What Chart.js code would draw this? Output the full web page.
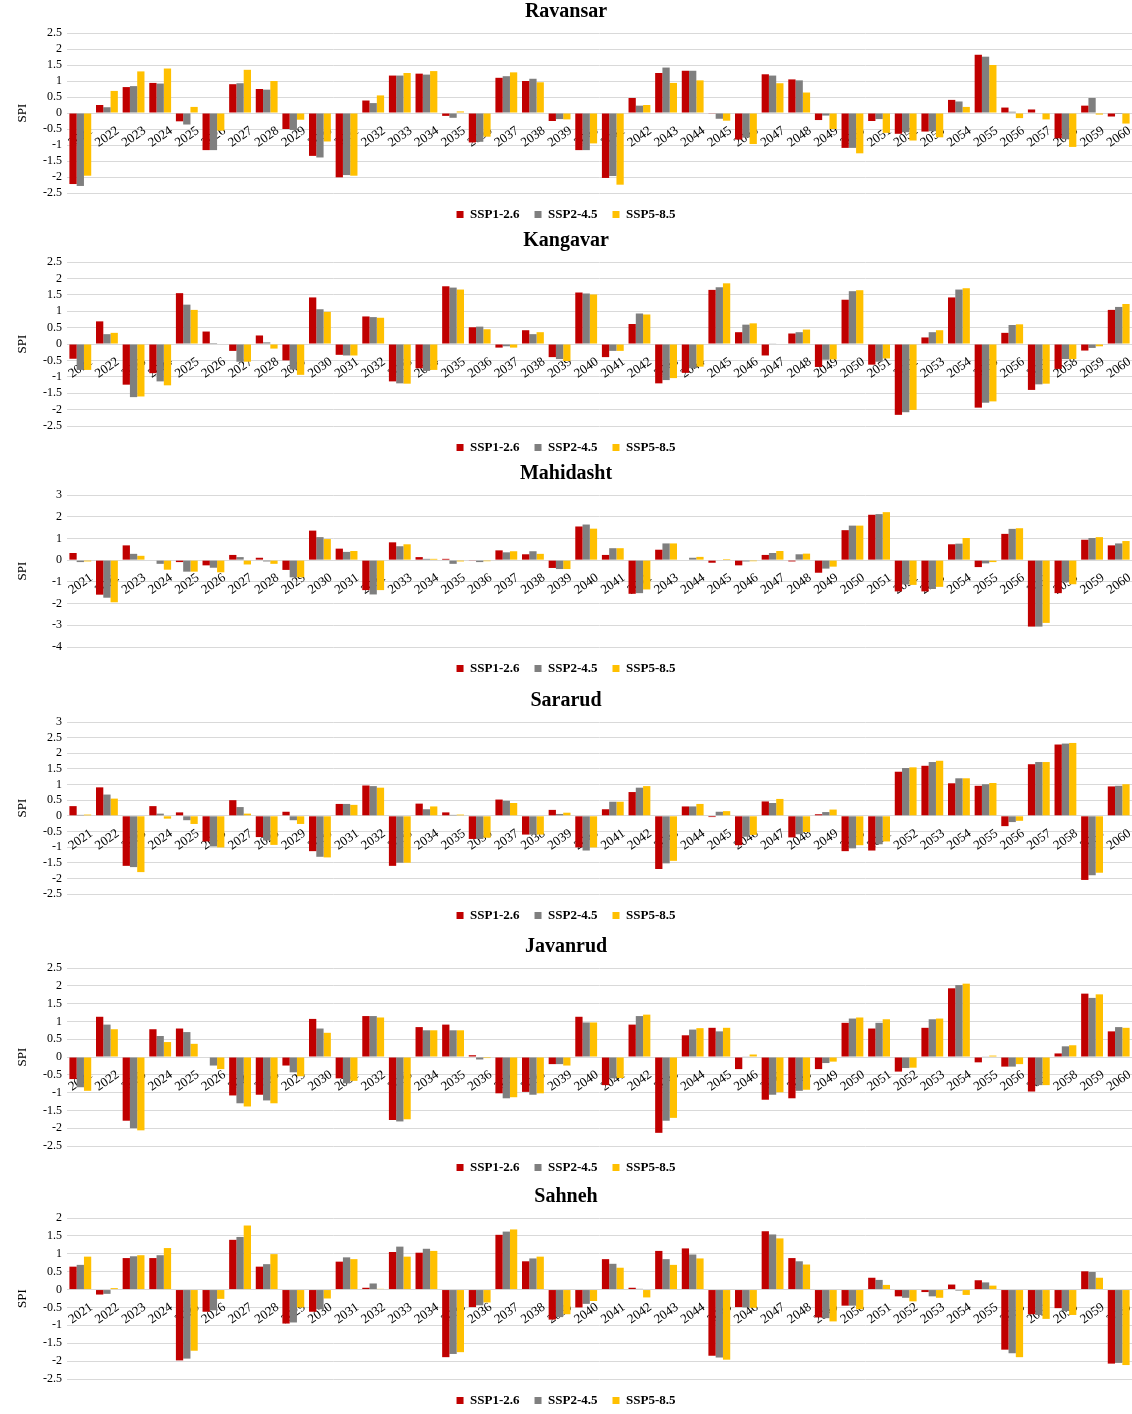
<!DOCTYPE html>
<html>
<head>
<meta charset="utf-8">
<script src="https://cdn.jsdelivr.net/npm/chart.js@4.4.1/dist/chart.umd.min.js"></script>
<style>
  body { margin: 0; background: #fff; }
  #chartsContainer { position: relative; width: 1132px; height: 1414px; overflow: hidden; }
  .panel { position: absolute; left: 0; width: 1132px; }
</style>
</head>
<body>
<div id="chartsContainer"></div>
<script>
const years = ['2021','2022','2023','2024','2025','2026','2027','2028','2029','2030',
               '2031','2032','2033','2034','2035','2036','2037','2038','2039','2040',
               '2041','2042','2043','2044','2045','2046','2047','2048','2049','2050',
               '2051','2052','2053','2054','2055','2056','2057','2058','2059','2060'];
const scenarios = ['SSP1-2.6', 'SSP2-4.5', 'SSP5-8.5'];
const stations = ['Ravansar', 'Kangavar', 'Mahidasht', 'Sararud', 'Javanrud', 'Sahneh'];

// SPI values per station, one array per scenario
const ravansar126 = [-2.22,0.25,0.81,0.94,-0.26,-1.16,0.90,0.75,-0.50,-1.34,-2.01,0.39,1.17,1.23,-0.09,-0.92,1.10,1.00,-0.25,-1.16,
                     -2.03,0.47,1.25,1.32,-0.01,-0.83,1.21,1.05,-0.22,-1.09,-0.25,-0.65,-0.58,0.41,1.82,0.17,0.11,-0.79,0.23,-0.11];
const ravansar245 = [-2.28,0.18,0.84,0.92,-0.36,-1.16,0.93,0.73,-0.53,-1.39,-1.94,0.31,1.17,1.20,-0.15,-0.90,1.15,1.07,-0.19,-1.16,
                     -1.97,0.23,1.42,1.32,-0.18,-0.77,1.17,1.02,-0.08,-1.09,-0.19,-0.60,-0.57,0.36,1.76,0.04,0.00,-0.82,0.47,-0.03];
const ravansar585 = [-1.96,0.69,1.30,1.39,0.19,-0.55,1.35,1.00,-0.21,-0.89,-1.96,0.55,1.25,1.31,0.05,-0.74,1.27,0.96,-0.20,-0.95,
                     -2.24,0.25,0.94,1.02,-0.24,-0.97,0.93,0.64,-0.50,-1.26,-0.62,-0.86,-0.76,0.19,1.50,-0.16,-0.20,-1.06,-0.05,-0.33];

const kangavar126 = [-0.45,0.69,-1.24,-0.89,1.55,0.38,-0.21,0.26,-0.50,1.42,-0.33,0.84,-1.14,-0.74,1.76,0.51,-0.11,0.42,-0.40,
                     1.57,-0.40,0.61,-1.20,-0.88,1.65,0.36,-0.35,0.32,-0.70,1.35,-0.63,-2.16,0.20,1.42,-1.94,0.34,-1.40,-0.76,-0.20,1.04];
const kangavar245 = [-0.79,0.30,-1.62,-1.14,1.20,0.03,-0.54,0.05,-0.78,1.06,-0.35,0.82,-1.20,-0.82,1.72,0.53,-0.07,0.30,-0.46,
                     1.54,-0.21,0.93,-1.10,-0.74,1.73,0.59,0.02,0.36,-0.48,1.61,-0.54,-2.08,0.36,1.66,-1.79,0.58,-1.23,-0.46,-0.12,1.13];
const kangavar585 = [-0.79,0.34,-1.60,-1.26,1.04,0.00,-0.54,-0.14,-0.94,0.98,-0.35,0.80,-1.21,-0.79,1.66,0.45,-0.11,0.36,-0.52,
                     1.51,-0.21,0.90,-1.04,-0.69,1.85,0.63,0.00,0.44,-0.47,1.64,-0.44,-2.01,0.42,1.70,-1.75,0.60,-1.21,-0.46,-0.07,1.22];

const mahidasht126 = [0.33,-1.59,0.68,0.00,-0.09,-0.24,0.24,0.11,-0.45,1.36,0.53,-1.38,0.82,0.14,0.06,-0.03,0.45,0.27,-0.36,
                      1.55,0.24,-1.55,0.48,0.00,-0.12,-0.24,0.24,-0.06,-0.58,1.38,2.09,-1.44,-1.44,0.73,-0.32,1.21,-3.06,-1.52,0.94,0.68];
const mahidasht245 = [-0.09,-1.73,0.29,-0.17,-0.53,-0.35,0.14,-0.06,-0.79,1.06,0.38,-1.58,0.64,0.06,-0.17,-0.09,0.36,0.41,-0.41,
                      1.64,0.55,-1.52,0.77,0.11,0.00,-0.06,0.33,0.27,-0.39,1.59,2.12,-1.12,-1.33,0.76,-0.15,1.44,-3.06,-1.02,1.02,0.77];
const mahidasht585 = [-0.06,-1.94,0.20,-0.44,-0.53,-0.56,-0.20,-0.17,-0.79,0.97,0.42,-1.38,0.73,0.06,-0.06,-0.05,0.41,0.29,-0.41,
                      1.45,0.55,-1.35,0.77,0.15,0.05,-0.05,0.42,0.30,-0.30,1.59,2.21,-1.14,-1.23,1.02,-0.09,1.47,-2.89,-1.11,1.06,0.88];

const sararud126 = [0.31,0.91,-1.60,0.31,0.11,-0.82,0.50,-0.68,0.13,-1.13,0.38,0.97,-1.60,0.39,0.11,-0.74,0.52,-0.60,0.19,
                    -1.01,0.21,0.76,-1.70,0.30,-0.04,-0.94,0.46,-0.69,0.05,-1.13,-1.11,1.41,1.60,1.04,0.96,-0.33,1.65,2.28,-2.05,0.94];
const sararud245 = [0.03,0.68,-1.64,0.07,-0.14,-0.98,0.28,-0.79,-0.14,-1.31,0.38,0.95,-1.50,0.21,0.03,-0.74,0.48,-0.60,0.06,
                    -1.11,0.45,0.90,-1.52,0.30,0.13,-0.67,0.41,-0.59,0.12,-1.04,-0.91,1.53,1.72,1.20,1.01,-0.20,1.72,2.31,-1.90,0.96];
const sararud585 = [0.04,0.55,-1.80,-0.09,-0.26,-1.01,0.07,-0.93,-0.26,-1.33,0.35,0.90,-1.50,0.30,0.04,-0.70,0.41,-0.60,0.10,
                    -1.01,0.45,0.95,-1.44,0.38,0.15,-0.61,0.54,-0.52,0.20,-0.94,-0.82,1.55,1.76,1.20,1.05,-0.16,1.72,2.33,-1.82,1.01];

const javanrud126 = [-0.62,1.13,-1.79,0.78,0.80,0.00,-1.08,-1.06,-0.24,1.07,-0.60,1.15,-1.77,0.84,0.91,0.05,-1.02,-0.98,-0.20,
                     1.13,-0.79,0.91,-2.13,0.61,0.82,-0.34,-1.20,-1.16,-0.34,0.96,0.80,-0.41,0.82,1.93,-0.15,-0.27,-0.97,0.10,1.78,0.72];
const javanrud245 = [-0.85,0.91,-2.00,0.59,0.70,-0.24,-1.30,-1.22,-0.43,0.80,-0.74,1.15,-1.81,0.75,0.75,-0.07,-1.16,-1.06,-0.20,
                     0.97,-0.60,1.15,-1.79,0.77,0.72,0.01,-1.06,-0.95,-0.17,1.08,0.96,-0.31,1.06,2.02,0.01,-0.27,-0.79,0.30,1.66,0.84];
const javanrud585 = [-0.95,0.78,-2.06,0.42,0.37,-0.34,-1.39,-1.30,-0.54,0.68,-0.67,1.11,-1.75,0.75,0.75,-0.03,-1.13,-1.02,-0.24,
                     0.97,-0.59,1.19,-1.71,0.81,0.82,0.07,-0.99,-0.92,-0.13,1.11,1.06,-0.30,1.08,2.06,0.04,-0.20,-0.79,0.33,1.76,0.82];

const sahneh126 = [0.64,-0.14,0.88,0.88,-1.98,-0.62,1.39,0.64,-0.95,-0.62,0.78,0.05,1.05,1.03,-1.89,-0.49,1.53,0.79,-0.84,
                   -0.50,0.85,0.05,1.08,1.15,-1.85,-0.49,1.63,0.88,-0.78,-0.45,0.33,-0.19,-0.07,0.14,0.26,-1.68,-0.69,-0.52,0.51,-2.07];
const sahneh245 = [0.69,-0.12,0.93,0.96,-1.93,-0.58,1.47,0.71,-0.92,-0.55,0.90,0.17,1.20,1.14,-1.80,-0.44,1.62,0.87,-0.77,
                   -0.40,0.72,0.02,0.85,0.98,-1.90,-0.50,1.54,0.79,-0.80,-0.45,0.27,-0.23,-0.19,-0.03,0.20,-1.78,-0.71,-0.60,0.49,-2.05];
const sahneh585 = [0.92,0.04,0.96,1.16,-1.71,-0.26,1.79,0.99,-0.50,-0.25,0.85,0.02,0.92,1.08,-1.75,-0.36,1.68,0.92,-0.69,
                   -0.32,0.61,-0.22,0.69,0.87,-1.96,-0.51,1.43,0.70,-0.89,-0.55,0.13,-0.33,-0.23,-0.15,0.11,-1.89,-0.82,-0.71,0.33,-2.11];

// y axis range per station
const yMins  = [-2.5, -2.5, -4, -2.5, -2.5, -2.5];
const yMaxs  = [2.5, 2.5, 3, 3, 2.5, 2];
const ySteps = [0.5, 0.5, 1, 0.5, 0.5, 0.5];

document.addEventListener('DOMContentLoaded', function () {
    const seriesByStation = [
        [ravansar126, ravansar245, ravansar585],
        [kangavar126, kangavar245, kangavar585],
        [mahidasht126, mahidasht245, mahidasht585],
        [sararud126, sararud245, sararud585],
        [javanrud126, javanrud245, javanrud585],
        [sahneh126, sahneh245, sahneh585]
    ];
    const panelTops = [0, 229, 462, 689, 935, 1185];
    const panelHeights = [231, 235, 223, 243, 249, 232];
    const colors = ['#C00000', '#7F7F7F', '#FFC000'];
    const serif = '"Liberation Serif", "Times New Roman", serif';
    const container = document.getElementById('chartsContainer');

    stations.forEach((name, i) => {
        const panel = document.createElement('div');
        panel.className = 'panel';
        panel.style.top = panelTops[i] + 'px';
        panel.style.height = panelHeights[i] + 'px';
        const canvas = document.createElement('canvas');
        canvas.width = 1132;
        canvas.height = panelHeights[i];
        panel.appendChild(canvas);
        container.appendChild(panel);

        new Chart(canvas.getContext('2d'), {
            type: 'bar',
            data: {
                labels: years,
                datasets: scenarios.map((label, k) => ({
                    label: label,
                    data: seriesByStation[i][k],
                    backgroundColor: colors[k],
                    borderWidth: 0,
                    categoryPercentage: 0.82,
                    barPercentage: 1.0
                }))
            },
            options: {
                responsive: false,
                animation: false,
                layout: { padding: 0 },
                plugins: {
                    title: {
                        display: true,
                        text: name,
                        color: '#000',
                        font: { family: serif, size: 20, weight: 'bold' },
                        padding: { top: 0, bottom: 9 }
                    },
                    legend: {
                        position: 'bottom',
                        labels: {
                            boxWidth: 7,
                            boxHeight: 7,
                            padding: 15,
                            color: '#000',
                            font: { family: serif, size: 13, weight: 'bold' }
                        }
                    },
                    tooltip: { enabled: false }
                },
                scales: {
                    x: {
                        position: { y: 0 },
                        z: 1,
                        grid: { display: false },
                        border: { display: true, color: '#d9d9d9' },
                        ticks: {
                            autoSkip: false,
                            minRotation: 35,
                            maxRotation: 35,
                            padding: 2,
                            labelOffset: 11,
                            color: '#000',
                            font: { family: serif, size: 13 }
                        }
                    },
                    y: {
                        min: yMins[i],
                        max: yMaxs[i],
                        ticks: {
                            stepSize: ySteps[i],
                            autoSkip: false,
                            padding: 5,
                            color: '#000',
                            font: { family: serif, size: 12 },
                            callback: v => String(+v.toFixed(1))
                        },
                        grid: { color: '#d9d9d9', drawTicks: false },
                        border: { display: false },
                        title: {
                            display: true,
                            text: 'SPI',
                            color: '#000',
                            font: { family: serif, size: 13 },
                            padding: { top: 15, bottom: 0 }
                        },
                        afterFit: scale => { scale.width = 67; }
                    }
                }
            }
        });
    });
});
</script>
</body>
</html>
